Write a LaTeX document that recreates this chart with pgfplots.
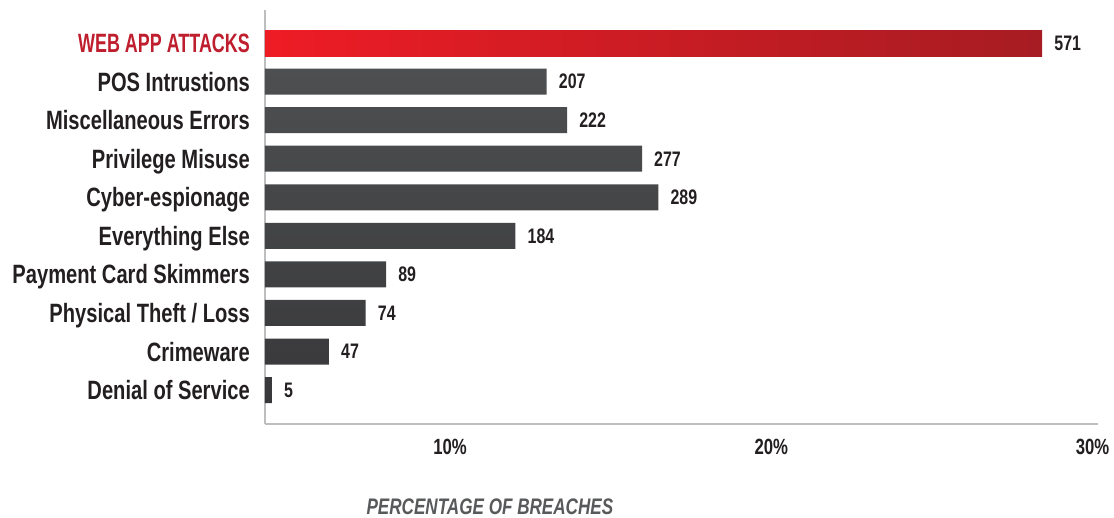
\documentclass[border=0pt]{standalone}
\usepackage{graphicx}
\usepackage{pgfplots}
\pgfplotsset{compat=1.18}
\usepackage{fontspec}
\setmainfont{Liberation Sans}[FakeStretch=0.76]
\definecolor{txt}{HTML}{231F20}
\definecolor{redlab}{HTML}{BE1E2D}
\definecolor{redL}{HTML}{EE1C25}
\definecolor{redR}{HTML}{A61C22}
\definecolor{barT}{HTML}{4E4F51}
\definecolor{barB}{HTML}{38383A}
\definecolor{axgray}{HTML}{BCBEC0}
\definecolor{ttl}{HTML}{58595B}
\begin{document}
\begin{tikzpicture}
\begin{axis}[
  scale only axis,
  width=833pt, height=414pt,
  xmin=0, xmax=612,
  ymin=-0.856, ymax=9.88,
  y dir=reverse,
  axis x line=bottom, axis y line=left,
  axis line style={-, axgray, line width=1.5pt},
  xtick={136,372,608},
  xticklabels={10\%,20\%,30\%},
  major tick length=0pt,
  xticklabel style={anchor=base, inner sep=0pt, yshift=-30pt, font=\fontsize{22}{26}\selectfont\bfseries, text=txt},
  ytick={0,...,9},
  yticklabels={\textcolor{redlab}{\scalebox{0.89}[1]{WEB APP ATTACKS}},POS Intrustions,Miscellaneous Errors,Privilege Misuse,Cyber-espionage,Everything Else,Payment Card Skimmers,Physical Theft / Loss,Crimeware,Denial of Service},
  yticklabel style={anchor=base east, inner sep=0pt, xshift=-15pt, yshift=-9.5pt, font=\fontsize{26.5}{30}\selectfont\bfseries, text=txt},
  xbar, bar width=26pt, bar shift=0pt,
  point meta=explicit symbolic,
  nodes near coords,
  nodes near coords style={anchor=west, inner sep=0pt, xshift=12pt, font=\fontsize{21}{24}\selectfont\bfseries, text=txt},
  xlabel={\itshape PERCENTAGE OF BREACHES},
  xlabel style={at={(axis description cs:0.270,0)}, anchor=base, inner sep=0pt, yshift=-90pt, font=\fontsize{22.5}{26}\selectfont\bfseries, text=ttl},
  clip=false,
]
\addplot[draw=none, left color=redL, right color=redR] coordinates {(571,0) [571]};
\addplot[draw=none, top color=barT, bottom color=barB] coordinates {
(207,1) [207]
(222,2) [222]
(277,3) [277]
(289,4) [289]
(184,5) [184]
(89,6) [89]
(74,7) [74]
(47,8) [47]
(5,9) [5]
};
\end{axis}
\path ([xshift=-265pt, yshift=-94pt]current axis.south west) rectangle ++(1114pt,518pt);
\end{tikzpicture}
\end{document}
